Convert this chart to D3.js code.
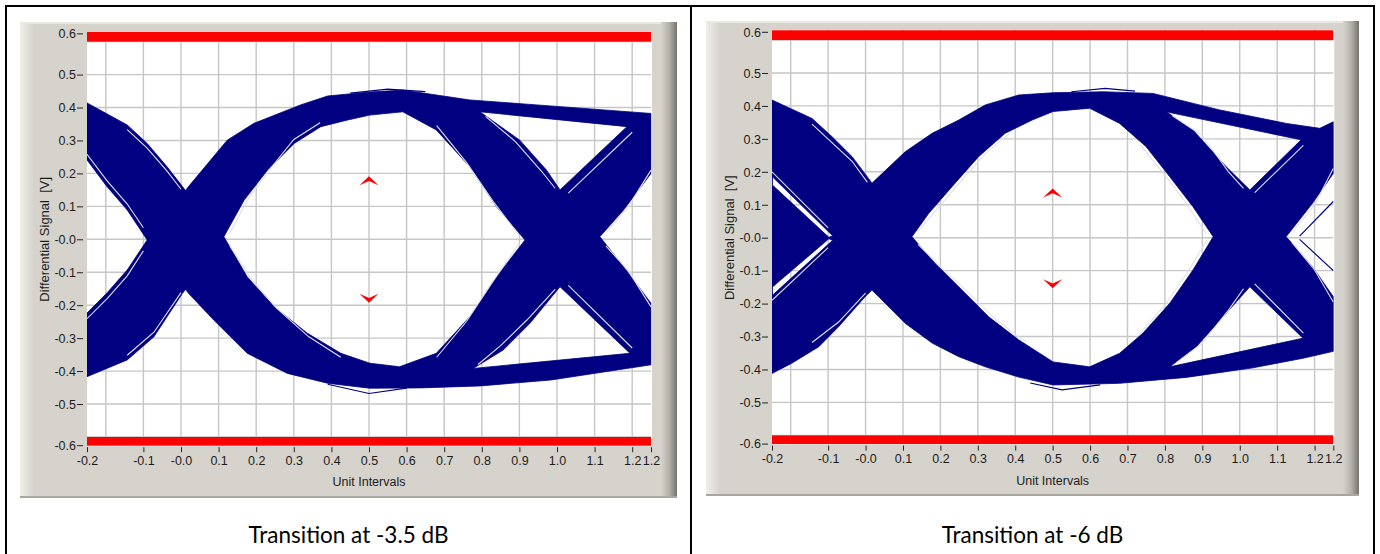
<!DOCTYPE html>
<html><head><meta charset="utf-8">
<script src="https://cdn.jsdelivr.net/npm/d3@7"></script>
<style>body{margin:0;background:#fff;} svg{display:block}</style>
</head><body>
<svg id="c" width="1380" height="554"></svg>
<script>
// ---------- axis data ----------
const xTicks = [-0.1,0,0.1,0.2,0.3,0.4,0.5,0.6,0.7,0.8,0.9,1.0,1.1,1.2];
const xTickLabels = ["-0.1","-0.0","0.1","0.2","0.3","0.4","0.5","0.6","0.7","0.8","0.9","1.0","1.1","1.2"];
const xEnds = [-0.25, 1.25];
const xEndLabels = ["-0.2","1.2"];
const yTicks = [-0.5,-0.4,-0.3,-0.2,-0.1,0,0.1,0.2,0.3,0.4,0.5];
const yTickLabels = ["-0.5","-0.4","-0.3","-0.2","-0.1","-0.0","0.1","0.2","0.3","0.4","0.5"];
const yEnds = [-0.625, 0.625];
const yEndLabels = ["-0.6","0.6"];
const xGrid = [-0.2,-0.1,0,0.1,0.2,0.3,0.4,0.5,0.6,0.7,0.8,0.9,1.0,1.1,1.2];
const yGrid = [-0.6,-0.5,-0.4,-0.3,-0.2,-0.1,0,0.1,0.2,0.3,0.4,0.5,0.6];
const maskLimits = [0.6, -0.6];
const xTitle = "Unit Intervals";
const yTitle = "Differential Signal  [V]";
const captions = ["Transition at -3.5 dB", "Transition at -6 dB"];
const markerU = 0.5;

// ---------- eye A (-3.5 dB): envelope [UI, V] ----------
const eyeA_outer = [[-0.25,0.414],[-0.143,0.347],[-0.09,0.291],[-0.037,0.22],[0.004,0.16],[0.012,0.148],[0.02,0.16],[0.123,0.301],[0.194,0.352],[0.318,0.408],[0.39,0.435],[0.502,0.447],[0.59,0.453],[0.768,0.423],[0.946,0.408],[1.25,0.382],
 [1.25,0.2],[1.177,0.089],[1.114,0.008],[1.177,-0.083],[1.25,-0.194],
 [1.25,-0.381],[0.984,-0.427],[0.797,-0.445],[0.637,-0.451],[0.502,-0.452],[0.39,-0.437],[0.283,-0.407],[0.176,-0.346],[0.087,-0.245],[0.02,-0.164],[0.012,-0.152],[0.004,-0.164],[-0.072,-0.296],[-0.143,-0.366],[-0.25,-0.417],
 [-0.25,-0.224],[-0.197,-0.163],[-0.143,-0.093],[-0.09,-0.002],[-0.143,0.089],[-0.197,0.16],[-0.25,0.241]];
const eyeA_opening = [[0.114,0.008],[0.168,0.119],[0.23,0.21],[0.301,0.291],[0.372,0.342],[0.443,0.362],[0.502,0.377],[0.59,0.387],[0.679,0.332],[0.768,0.22],[0.839,0.099],[0.915,-0.002],[0.839,-0.114],[0.768,-0.235],[0.679,-0.346],[0.581,-0.387],[0.502,-0.376],[0.425,-0.346],[0.336,-0.285],[0.248,-0.205],[0.176,-0.114]];
const eyeA_upperGap = [[0.795,0.387],[1.186,0.342],[1.008,0.15],[0.972,0.21],[0.901,0.301]];
const eyeA_lowerGap = [[1.008,-0.144],[1.194,-0.346],[0.777,-0.392],[0.857,-0.336],[0.928,-0.255]];
const eyeA_streaks = [
 [[-0.25,0.258],[-0.197,0.178],[-0.143,0.107],[-0.1,0.035]],
 [[-0.25,-0.241],[-0.197,-0.181],[-0.143,-0.111],[-0.1,-0.035]],
 [[-0.143,0.333],[-0.09,0.277],[-0.037,0.207],[0.0,0.152]],
 [[-0.143,-0.352],[-0.072,-0.282],[0.0,-0.162]],
 [[0.13,0.02],[0.18,0.125],[0.24,0.218],[0.30,0.303],[0.37,0.354]],
 [[0.13,-0.02],[0.185,-0.118],[0.255,-0.21],[0.34,-0.296],[0.425,-0.358]],
 [[0.90,0.01],[0.83,0.115],[0.76,0.232],[0.68,0.345]],
 [[0.90,-0.012],[0.83,-0.127],[0.76,-0.248],[0.68,-0.358]],
 [[0.81,0.373],[0.89,0.296],[0.96,0.205],[0.995,0.155]],
 [[0.79,-0.380],[0.85,-0.323],[0.92,-0.245],[0.995,-0.152]],
 [[1.13,0.02],[1.19,0.10],[1.25,0.21]],
 [[1.13,-0.02],[1.19,-0.096],[1.25,-0.205]],
 [[1.03,0.14],[1.2,0.325]],
 [[1.03,-0.14],[1.2,-0.33]]
];
const eyeA_traces = [
 [[0.39,-0.44],[0.5,-0.468],[0.6,-0.452]],
 [[0.45,0.444],[0.55,0.456],[0.65,0.448]]
];
const eyeA_markers = [0.178, -0.179];

// ---------- eye B (-6 dB) ----------
const eyeB_outer = [[-0.25,0.418],[-0.143,0.362],[-0.09,0.307],[-0.036,0.246],[0.008,0.18],[0.017,0.165],[0.026,0.175],[0.106,0.261],[0.178,0.317],[0.249,0.357],[0.32,0.403],[0.409,0.433],[0.501,0.44],[0.635,0.443],[0.768,0.438],[0.946,0.388],[1.124,0.347],[1.214,0.332],[1.25,0.352],
 [1.25,0.195],[1.194,0.104],[1.124,0.003],[1.194,-0.088],[1.25,-0.179],
 [1.25,-0.345],[1.169,-0.366],[1.035,-0.395],[0.857,-0.424],[0.679,-0.442],[0.501,-0.447],[0.409,-0.423],[0.32,-0.392],[0.249,-0.361],[0.178,-0.32],[0.106,-0.26],[0.035,-0.179],[0.017,-0.159],[-0.001,-0.179],[-0.072,-0.27],[-0.125,-0.331],[-0.197,-0.381],[-0.25,-0.412]];
const eyeB_opening = [[0.124,0.003],[0.169,0.074],[0.231,0.155],[0.302,0.246],[0.373,0.317],[0.445,0.357],[0.501,0.383],[0.599,0.393],[0.679,0.347],[0.75,0.276],[0.813,0.185],[0.875,0.094],[0.929,0.003],[0.875,-0.098],[0.813,-0.199],[0.741,-0.29],[0.679,-0.351],[0.599,-0.392],[0.501,-0.377],[0.409,-0.31],[0.329,-0.24],[0.249,-0.149],[0.186,-0.078]];
const eyeB_upperGap = [[0.804,0.382],[1.164,0.297],[1.027,0.145],[0.964,0.215],[0.875,0.327]];
const eyeB_lowerGap = [[1.027,-0.149],[1.169,-0.305],[0.813,-0.392],[0.884,-0.331],[0.964,-0.229]];
const eyeB_leftGapUp = [[-0.249,0.185],[-0.088,0.006],[-0.098,0.001],[-0.249,0.16]];
const eyeB_leftGapDown = [[-0.249,-0.175],[-0.088,-0.008],[-0.098,-0.003],[-0.249,-0.15]];
const eyeB_streaks = [
 [[-0.143,0.345],[-0.036,0.232],[0.005,0.168]],
 [[-0.143,-0.318],[-0.072,-0.256],[0.0,-0.168]],
 [[0.14,0.02],[0.19,0.085],[0.25,0.165],[0.32,0.255],[0.39,0.322]],
 [[0.14,-0.02],[0.2,-0.088],[0.27,-0.162],[0.35,-0.25],[0.43,-0.318]],
 [[0.91,0.012],[0.86,0.1],[0.8,0.19],[0.735,0.28]],
 [[0.91,-0.012],[0.86,-0.105],[0.8,-0.205],[0.73,-0.295]],
 [[0.82,0.37],[0.9,0.31],[0.97,0.2],[1.01,0.15]],
 [[0.83,-0.38],[0.9,-0.32],[0.97,-0.22],[1.01,-0.155]],
 [[1.14,0.015],[1.2,0.1],[1.25,0.21]],
 [[1.14,-0.015],[1.2,-0.098],[1.25,-0.195]],
 [[1.04,0.137],[1.17,0.28]],
 [[1.04,-0.14],[1.17,-0.29]],
 [[-0.25,0.2],[-0.1,0.03]],
 [[-0.25,-0.19],[-0.1,-0.03]]
];
const eyeB_traces = [
 [[0.44,-0.441],[0.525,-0.462],[0.627,-0.447]],
 [[0.55,0.443],[0.64,0.453],[0.72,0.445]],
 [[1.16,0.005],[1.25,0.11]],
 [[1.16,-0.005],[1.25,-0.1]]
];
const eyeB_markers = [0.136, -0.14];

// ---------- drawing ----------
const svg = d3.select("#c");
const NAVY = "#000080", RED = "#ff0000";
const AXFONT = "'Liberation Sans', Arial, sans-serif";
const defs = svg.append("defs");
const gl = defs.append("linearGradient").attr("id","hl").attr("x1",0).attr("x2",1).attr("y1",0).attr("y2",0);
gl.append("stop").attr("offset",0).attr("stop-color","#f1efe9");
gl.append("stop").attr("offset",1).attr("stop-color","#d6d3cc");
const gs = defs.append("linearGradient").attr("id","sh").attr("x1",0).attr("x2",1).attr("y1",0).attr("y2",0);
gs.append("stop").attr("offset",0).attr("stop-color","#d6d3cc");
gs.append("stop").attr("offset",0.5).attr("stop-color","#b5b2aa");
gs.append("stop").attr("offset",1).attr("stop-color","#76736d");

const panels = [
 {frame:{x:20,y:22,w:657,h:476}, plot:{x0:87,x1:651,y0:33.4,y1:445.2}, yTitleX:44, caption:captions[0], capX:348.5,
  outer:eyeA_outer, holes:[eyeA_opening,eyeA_upperGap,eyeA_lowerGap], streaks:eyeA_streaks, traces:eyeA_traces, markers:eyeA_markers},
 {frame:{x:706,y:21,w:653,h:475}, plot:{x0:772,x1:1333.3,y0:31.8,y1:443.6}, yTitleX:729, caption:captions[1], capX:1032.5,
  outer:eyeB_outer, holes:[eyeB_opening,eyeB_upperGap,eyeB_lowerGap,eyeB_leftGapUp,eyeB_leftGapDown], streaks:eyeB_streaks, traces:eyeB_traces, markers:eyeB_markers}
];

panels.forEach(p => {
  const g = svg.append("g");
  const f = p.frame, P = p.plot;
  const x = d3.scaleLinear().domain([xEnds[0], xEnds[1]]).range([P.x0, P.x1]);
  const y = d3.scaleLinear().domain([yEnds[0], yEnds[1]]).range([P.y1, P.y0]);

  // frame
  g.append("rect").attr("x",f.x).attr("y",f.y).attr("width",f.w).attr("height",f.h).attr("fill","#d6d3cc");
  g.append("rect").attr("x",f.x).attr("y",f.y).attr("width",14).attr("height",f.h).attr("fill","url(#hl)");
  g.append("rect").attr("x",f.x+f.w-16).attr("y",f.y).attr("width",16).attr("height",f.h).attr("fill","url(#sh)");
  g.append("rect").attr("x",f.x).attr("y",f.y).attr("width",f.w-16).attr("height",2).attr("fill","#ebe8e2");
  g.append("rect").attr("x",f.x).attr("y",f.y+f.h-2).attr("width",f.w).attr("height",2).attr("fill","#a9a69f");

  // plot background
  g.append("rect").attr("x",P.x0).attr("y",P.y0-1.5).attr("width",P.x1-P.x0+1).attr("height",P.y1-P.y0+2.5).attr("fill","#fff");

  const clipId = "clip"+f.x;
  defs.append("clipPath").attr("id",clipId).append("rect").attr("x",P.x0).attr("y",P.y0-2).attr("width",P.x1-P.x0+0.5).attr("height",P.y1-P.y0+3);
  const pg = g.append("g").attr("clip-path",`url(#${clipId})`);

  // grid
  pg.selectAll(".vg").data(xGrid).join("line").attr("x1",d=>x(d)).attr("x2",d=>x(d)).attr("y1",P.y0-2).attr("y2",P.y1+2)
    .attr("stroke","#c6c6c6").attr("stroke-width",1.4);
  pg.selectAll(".hg").data(yGrid).join("line").attr("y1",d=>y(d)).attr("y2",d=>y(d)).attr("x1",P.x0).attr("x2",P.x1)
    .attr("stroke","#c6c6c6").attr("stroke-width",1.4);

  // eye envelope (even-odd holes)
  const line = d3.line().x(d=>x(d[0])).y(d=>y(d[1]));
  const dPath = [p.outer].concat(p.holes).map(poly => line(poly) + "Z").join("");
  pg.append("path").attr("d",dPath).attr("fill",NAVY).attr("fill-rule","evenodd")
    .attr("stroke",NAVY).attr("stroke-width",0.8).attr("stroke-linejoin","round");
  pg.selectAll(".st").data(p.streaks).join("path").attr("d",d=>line(d)).attr("fill","none")
    .attr("stroke","#dfe0f0").attr("stroke-width",1.1);
  pg.selectAll(".tr").data(p.traces).join("path").attr("d",d=>line(d)).attr("fill","none")
    .attr("stroke",NAVY).attr("stroke-width",1.2);

  // mask limits (red bands)
  pg.append("rect").attr("x",P.x0).attr("width",P.x1-P.x0).attr("y",y(yEnds[1])-1.5).attr("height",y(maskLimits[0])-y(yEnds[1])+1.5).attr("fill",RED);
  pg.append("rect").attr("x",P.x0).attr("width",P.x1-P.x0).attr("y",y(maskLimits[1])).attr("height",y(yEnds[0])-y(maskLimits[1])+0.5).attr("fill",RED);

  // eye mask markers
  p.markers.forEach(v => {
    const s = v > 0 ? 1 : -1;
    g.append("path").attr("transform",`translate(${x(markerU)},${y(v)})`)
      .attr("d",`M0,${-4.5*s} L9.5,${4.5*s} L0,${0.3*s} L-9.5,${4.5*s} Z`).attr("fill",RED);
  });

  // axes
  const xVals = xTicks.concat(xEnds), xLabs = xTickLabels.concat(xEndLabels);
  const xa = g.append("g").attr("transform",`translate(0,${P.y1+2})`)
    .call(d3.axisBottom(x).tickValues(xVals).tickFormat((d,i)=>xLabs[i]).tickSize(5).tickPadding(4));
  const yVals = yTicks.concat(yEnds), yLabs = yTickLabels.concat(yEndLabels);
  const ya = g.append("g").attr("transform",`translate(${P.x0-4},0)`)
    .call(d3.axisLeft(y).tickValues(yVals).tickFormat((d,i)=>yLabs[i]).tickSize(6).tickPadding(1));
  [xa,ya].forEach(a => {
    a.select(".domain").remove();
    a.selectAll("line").attr("stroke","#222");
    a.selectAll("text").attr("fill","#1c1c1c").style("font-family",AXFONT).style("font-size","12.5px");
  });
  ya.selectAll("text").attr("dy","0.34em");

  g.append("text").attr("x",(P.x0+P.x1)/2).attr("y",P.y1+41).attr("text-anchor","middle")
    .style("font-family",AXFONT).style("font-size","12.5px").attr("fill","#1c1c1c").text(xTitle);
  g.append("text").attr("transform",`translate(${p.yTitleX},${y(0)}) rotate(-90)`).attr("text-anchor","middle").attr("dy","0.35em")
    .style("font-family",AXFONT).style("font-size","13px").style("white-space","pre").attr("fill","#1c1c1c").text(yTitle);

  // caption
  svg.append("text").attr("x",p.capX).attr("y",543).attr("text-anchor","middle")
    .style("font-family","Lato, 'Open Sans', sans-serif").style("font-size","22.5px").attr("fill","#000").text(p.caption);
});

// table borders
svg.append("rect").attr("x",5).attr("y",5).attr("width",1370).attr("height",2).attr("fill","#000");
[5,690,1373].forEach(xx => svg.append("rect").attr("x",xx).attr("y",5).attr("width",2).attr("height",549).attr("fill","#000"));
</script>
</body></html>
